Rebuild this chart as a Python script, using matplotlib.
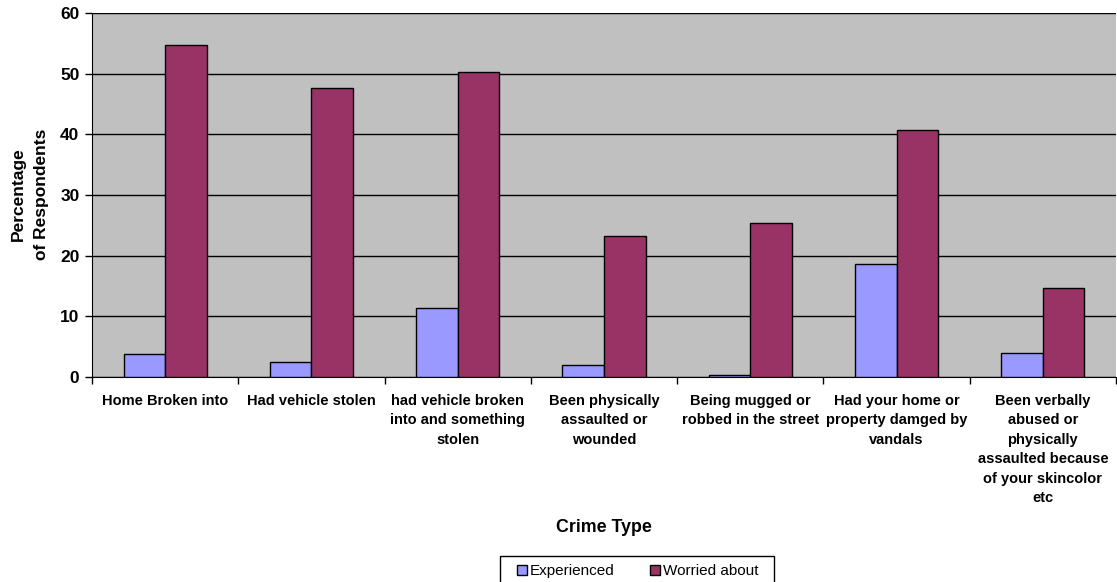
import numpy as np
import matplotlib.pyplot as plt
from matplotlib.patches import Patch, Rectangle

plt.rcParams['font.family'] = ['Liberation Sans', 'DejaVu Sans']

categories = ['Home Broken into', 'Had vehicle stolen',
              'had vehicle broken\ninto and something\nstolen',
              'Been physically\nassaulted or\nwounded',
              'Being mugged or\nrobbed in the street',
              'Had your home or\nproperty damged by\nvandals',
              'Been verbally\nabused or\nphysically\nassaulted because\nof your skincolor\netc']
experienced = [3.8, 2.5, 11.4, 2.0, 0.4, 18.7, 4.0]
worried = [54.8, 47.6, 50.3, 23.3, 25.4, 40.7, 14.6]

W, H = 1117, 582
fig = plt.figure(figsize=(W / 100, H / 100), dpi=100)
ax = fig.add_axes([92 / W, 205 / H, 1024 / W, 364 / H])
ax.set_facecolor('#C0C0C0')

x = np.arange(len(categories))
w = 0.284
ax.bar(x - w / 2, experienced, w, color='#9999FF', edgecolor='black', linewidth=1, zorder=3)
ax.bar(x + w / 2, worried, w, color='#993366', edgecolor='black', linewidth=1, zorder=3)

ax.set_xlim(-0.5, len(categories) - 0.5)
ax.set_ylim(0, 60)
ax.set_yticks(range(0, 61, 10))
ax.yaxis.grid(True, color='black', linewidth=1, zorder=1)
ax.set_axisbelow(True)
for lbl in ax.get_yticklabels():
    lbl.set_fontweight('bold')
ax.tick_params(axis='y', labelsize=12.5, length=5, width=1, pad=4)

ax.set_xticks(np.arange(-0.5, len(categories), 1))
ax.set_xticklabels([])
ax.tick_params(axis='x', length=5, width=1)
ax.set_xticks(x, minor=True)
ax.set_xticklabels(categories, minor=True, fontsize=10.5, fontweight='bold', linespacing=1.5)
ax.tick_params(axis='x', which='minor', length=0, pad=12)

ax.spines['top'].set_visible(False)
ax.spines['right'].set_visible(False)

fig.text(604 / W, 1 - 527 / H, 'Crime Type', ha='center', va='center',
         fontsize=12.8, fontweight='bold')
fig.text(30 / W, 1 - 194 / H, 'Percentage\nof Respondents', ha='center', va='center',
         rotation=90, fontsize=12.5, fontweight='bold', linespacing=1.65)

# legend box
fig.patches.append(Rectangle((500 / W, 1 - 590 / H), 274 / W, 34 / H, transform=fig.transFigure,
                             facecolor='white', edgecolor='black', linewidth=1))
handles = [Patch(facecolor='#9999FF', edgecolor='black', label='Experienced'),
           Patch(facecolor='#993366', edgecolor='black', label='Worried about')]
fig.legend(handles=handles, loc='center left', bbox_to_anchor=(517 / W, 1 - 571 / H),
           ncol=2, fontsize=11, frameon=False, handlelength=0.65, handleheight=0.65,
           handletextpad=0.2, columnspacing=2.3, borderpad=0, borderaxespad=0)

fig.savefig('out.png', dpi=100)
